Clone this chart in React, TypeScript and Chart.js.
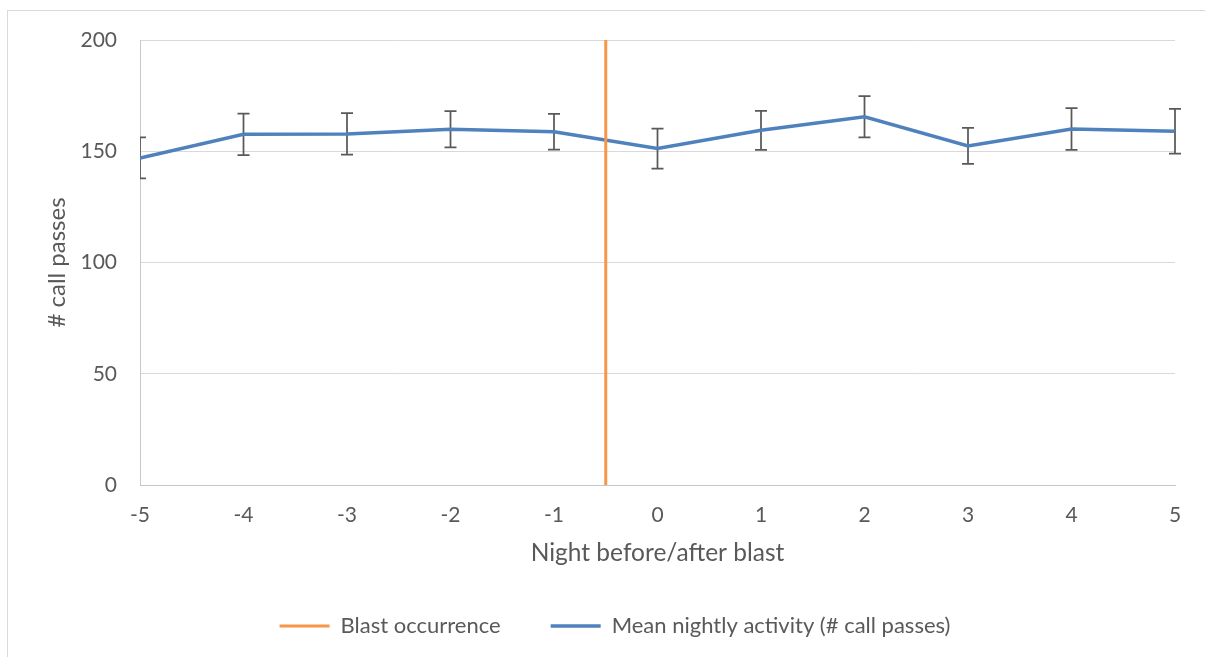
import React, { useEffect, useRef } from "react";
import { Chart, registerables } from "chart.js";

Chart.register(...registerables);

const nights = [-5, -4, -3, -2, -1, 0, 1, 2, 3, 4, 5];
const meanActivity = [147, 157.6, 157.8, 159.9, 158.8, 151.2, 159.4, 165.5, 152.4, 160, 159];
const errorAmount = [9.2, 9.3, 9.35, 8.15, 8.05, 9, 8.75, 9.3, 8.05, 9.35, 10.05];
const blastNight = -0.5;
const yRange = [0, 200];
const yStep = 50;
const xRange = [-5, 5];

const TEXT = "#595959";
const FONT = "Lato";

const errorBarPlugin = {
  id: "errorBars",
  beforeDatasetsDraw(chart: any) {
    const { ctx, chartArea, scales } = chart;
    const xs = scales.x;
    const ys = scales.y;
    ctx.save();
    ctx.beginPath();
    ctx.rect(chartArea.left, 0, chart.width - chartArea.left, chart.height);
    ctx.clip();
    ctx.strokeStyle = "#595959";
    ctx.lineWidth = 1.75;
    nights.forEach((n, i) => {
      const px = xs.getPixelForValue(n);
      const top = ys.getPixelForValue(meanActivity[i] + errorAmount[i]);
      const bot = ys.getPixelForValue(meanActivity[i] - errorAmount[i]);
      const hw = 6;
      ctx.beginPath();
      ctx.moveTo(px, top);
      ctx.lineTo(px, bot);
      ctx.moveTo(px - hw, top);
      ctx.lineTo(px + hw, top);
      ctx.moveTo(px - hw, bot);
      ctx.lineTo(px + hw, bot);
      ctx.stroke();
    });
    ctx.restore();
  },
};

export default function App() {
  const ref = useRef<HTMLCanvasElement | null>(null);
  useEffect(() => {
    if (!ref.current) return;
    const chart = new Chart(ref.current, {
      type: "line",
      data: {
        datasets: [
          {
            label: "Blast occurrence",
            data: yRange.map((v) => ({ x: blastNight, y: v })),
            borderColor: "#F79646",
            backgroundColor: "#F79646",
            borderWidth: 3,
            pointRadius: 0,
            pointStyle: "line",
            fill: false,
          },
          {
            label: "Mean nightly activity (# call passes)",
            data: nights.map((n, i) => ({ x: n, y: meanActivity[i] })),
            borderColor: "#4F81BD",
            backgroundColor: "#4F81BD",
            borderWidth: 3.5,
            pointRadius: 0,
            pointStyle: "line",
            fill: false,
            tension: 0,
          },
        ],
      },
      options: {
        animation: false,
        responsive: false,
        maintainAspectRatio: false,
        layout: { padding: { left: 55, right: 30, top: 40, bottom: 10 } },
        font: { family: FONT },
        plugins: {
          tooltip: { enabled: false },
          legend: {
            position: "bottom",
            labels: {
              usePointStyle: true,
              pointStyleWidth: 50,
              padding: 50,
              color: TEXT,
              font: { family: FONT, size: 22 },
            },
          },
        },
        scales: {
          x: {
            type: "linear",
            min: xRange[0],
            max: xRange[1],
            afterFit(scale: any) {
              scale.height = 80;
            },
            ticks: {
              stepSize: 1,
              color: TEXT,
              padding: 18,
              font: { family: FONT, size: 21 },
            },
            grid: { display: false, drawTicks: false },
            border: { display: true, color: "#C8C8C8", width: 1 },
            title: {
              display: true,
              text: "Night before/after blast",
              color: TEXT,
              font: { family: FONT, size: 24.5 },
              padding: { top: 0, bottom: -3 },
            },
          },
          y: {
            min: yRange[0],
            max: yRange[1],
            afterFit(scale: any) {
              scale.width = 85;
            },
            ticks: {
              stepSize: yStep,
              color: TEXT,
              padding: 23,
              font: { family: FONT, size: 21 },
            },
            grid: { color: "#D9D9D9", drawTicks: false, lineWidth: 1 },
            border: { display: true, color: "#C8C8C8", width: 1 },
            title: {
              display: true,
              text: "# call passes",
              color: TEXT,
              font: { family: FONT, size: 24 },
              padding: { top: -12.4, bottom: 0 },
            },
          },
        },
      },
      plugins: [errorBarPlugin],
    } as any);
    return () => chart.destroy();
  }, []);

  return (
    <div
      style={{
        position: "fixed",
        left: 0,
        top: 0,
        width: 1205,
        height: 657,
        overflow: "hidden",
        background: "#fff",
      }}
    >
      <div
        style={{
          position: "absolute",
          left: 7,
          top: 10,
          width: 1300,
          height: 800,
          border: "1px solid #D9D9D9",
        }}
      />
      <canvas
        ref={ref}
        width={1205}
        height={657}
        style={{ position: "absolute", left: 0, top: 0, width: 1205, height: 657 }}
      />
    </div>
  );
}
